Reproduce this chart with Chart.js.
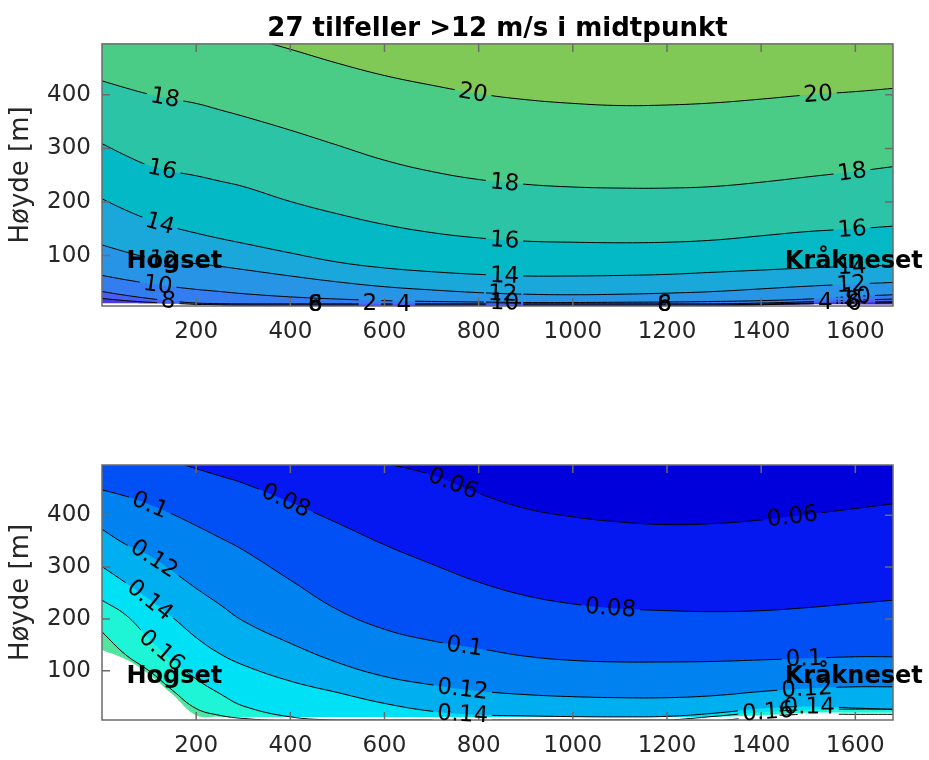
<!DOCTYPE html>
<html>
<head>
<meta charset="utf-8">
<script src="https://cdn.jsdelivr.net/npm/chart.js@4"></script>
<style>
  body { margin: 0; background: #fff; }
  .felt { position: absolute; left: 0; width: 929px; height: 380px; }
</style>
</head>
<body>
<div class="felt" style="top:0"><canvas id="vind" width="929" height="380"></canvas></div>
<div class="felt" style="top:380px"><canvas id="turb" width="929" height="380"></canvas></div>
<script>
// avstand langs profilet [m]
const xs = [0, 50, 100, 150, 200, 250, 300, 400, 500, 600, 700, 800, 900, 1000, 1100, 1200, 1300, 1400, 1500, 1600, 1680];
const xTicks = [200, 400, 600, 800, 1000, 1200, 1400, 1600];
const yTicks = [100, 200, 300, 400];

// øvre figur: høyde til hver konturlinje for vindhastighet (m/s)
const vind20 = [586, 573, 561, 548, 536, 523, 510, 485, 459, 436, 418, 402, 391, 384, 380, 381, 385, 392, 400, 406, 412];
const vind18 = [426, 413, 401, 392, 384, 372, 360, 334, 306, 278, 257, 242, 233, 228, 226, 226, 229, 237, 247, 257, 266];
const vind16 = [309, 287, 268, 257, 249, 239, 229, 201, 178, 158, 143, 133, 127, 125, 124, 125, 129, 137, 145, 150, 155];
const vind14 = [206, 185, 167, 153, 142, 132, 123, 105, 88, 77, 70, 65, 62, 62, 63, 65, 69, 73, 77, 80, 82];
const vind12 = [120, 107, 96, 90, 85, 80, 74, 62, 51, 42, 36, 31, 28, 27, 28, 30, 33, 38, 43, 47, 50];
const vind10 = [63, 55, 48, 42, 37, 33, 29, 23, 19, 16, 14.5, 13.5, 12.5, 12.5, 13, 13.5, 14.5, 16, 19, 24, 27];
const vind8 = [33, 26, 20, 15, 11.5, 10.5, 10, 10, 10, 10, 10, 10, 10, 10, 10, 10, 10, 11.5, 14, 17, 19];
const vind6 = [20, 16, 13, 11, 9, 8.5, 8, 8, 8, 8, 8, 8, 8, 8, 8, 8, 8, 9.5, 11.5, 13, 14];
const vind4 = [2, 2, 2, 2, 2, 4, 6.5, 6.5, 6.5, 6.5, 6.5, 6.5, 6.5, 6.5, 6.5, 6.5, 6.5, 8.5, 10, 11, 12];
const terrengVind = [11, 11, 10.5, 10, 9, 7, 2, 2, 2, 2, 2, 2, 2, 2, 2, 2, 2, 7, 9, 9, 9];

// nedre figur: høyde til hver konturlinje for turbulensintensitet
const turb06 = [620, 610, 600, 590, 580, 570, 560, 540, 520, 500, 478, 442, 413, 397, 387, 382, 384, 391, 402, 413, 422];
const turb08 = [545, 531, 518, 504, 490, 476, 462, 425, 385, 343, 306, 271, 245, 229, 220, 216, 214, 216, 222, 230, 236];
const turb10 = [449, 437, 421, 402, 380, 357, 333, 275, 218, 180, 158, 143, 128, 120, 117, 117, 118, 121, 124, 127, 127];
const turb12 = [373, 344, 323, 292, 259, 228, 196, 153, 116, 89, 73, 61, 54, 50, 48, 48, 52, 60, 66, 69, 69];
const turb14 = [301, 270, 238, 203, 164, 133, 111, 80, 58, 37, 22, 15, 13, 11.5, 11, 12, 18, 27, 31, 28, 25];
const turb16 = [236, 208, 162, 120, 84, 56, 32, 11, 5, 5, 5, 5, 5, 5, 5, 5, 12, 20, 25, 26, 26];
const turb18 = [175, 131, 100, 62, 27, 14, 8, 3, 3, 3, 3, 3, 3, 3, 3, 3, 3, 12, 16, 16, 16];
const terrengTurb = [140, 122, 93, 54, 14, 11, 11, 11, 11, 11, 11, 11, 11, 11, 11, 11, 11, 14, 19, 19, 19];

// konturetiketter: [tekst, x] på linja, eller [tekst, x, høyde] fritt plassert
const etiketterVind = [
  ['18', 134], ['18', 855], ['18', 1593],
  ['16', 128], ['16', 855], ['16', 1593],
  ['14', 123], ['14', 855], ['14', 1593],
  ['12', 130], ['12', 851], ['12', 1591],
  ['10', 119], ['10', 855], ['10', 1602],
  ['8', 141], ['8', 1593],
  ['20', 788], ['20', 1521],
  ['6', 453, 9], ['8', 453, 9], ['2', 569, 11], ['4', 641, 9],
  ['6', 1195, 9], ['8', 1195, 9], ['4', 1536, 13], ['6', 1598, 12]
];
const etiketterTurb = [
  ['0.1', 102], ['0.08', 391], ['0.06', 746], ['0.12', 111], ['0.14', 102], ['0.16', 127],
  ['0.1', 770], ['0.12', 766], ['0.14', 766], ['0.08', 1080], ['0.06', 1466],
  ['0.1', 1491], ['0.12', 1497], ['0.14', 1502], ['0.16', 1414]
];
const steder = [['Hogset', 52], ['Kråkneset', 1450]];
const stedHoyde = 88;

Chart.defaults.font.family = "'DejaVu Sans', sans-serif";
Chart.defaults.color = '#262626';

function kontur(niva, verdier, farge, fyll) {
  return {
    niva: niva,
    data: xs.map((x, i) => ({ x: x, y: verdier[i] })),
    borderColor: niva ? '#000' : 'rgba(0,0,0,0)',
    borderWidth: niva ? 1 : 0,
    backgroundColor: farge,
    fill: fyll,
    pointRadius: 0,
    tension: 0.4
  };
}

// tegner bakgrunn, etiketter med hull i linjene, ramme og stedsnavn
function lagPynt(liste, bakgrunn) {
  return {
    id: 'pynt',
    beforeDraw(chart) {
      const a = chart.chartArea;
      chart.ctx.save();
      chart.ctx.fillStyle = bakgrunn;
      chart.ctx.fillRect(a.left, a.top, a.width, a.height);
      chart.ctx.restore();
    },
    beforeDatasetsDraw(chart) {
      const ctx = chart.ctx;
      ctx.save();
      ctx.font = "23px 'DejaVu Sans'";
      chart.$bokser = liste.map(function(e) {
        const tekst = e[0];
        const px = chart.scales.x.getPixelForValue(e[1]);
        let py, vinkel = 0;
        if (e.length < 3) {
          const idx = chart.data.datasets.findIndex(d => d.niva === tekst);
          const linje = chart.getDatasetMeta(idx).dataset;
          linje.updateControlPoints(chart.chartArea, 'x');
          const pkt = q => { const r = linje.interpolate({ x: q }, 'x'); return Array.isArray(r) ? r[0] : r; };
          const p = pkt(px), a = pkt(px - 5), b = pkt(px + 5);
          py = p.y;
          vinkel = Math.atan2(b.y - a.y, b.x - a.x);
        } else {
          py = chart.scales.y.getPixelForValue(e[2]);
        }
        return { tekst: tekst, px: px, py: py, vinkel: vinkel, w: ctx.measureText(tekst).width + 8, h: 20 };
      });
      ctx.restore();
    },
    beforeDatasetDraw(chart) {
      const ctx = chart.ctx;
      const a = chart.chartArea;
      ctx.save();
      ctx.beginPath();
      ctx.rect(a.left - 5, a.top - 5, a.width + 10, a.height + 10);
      (chart.$bokser || []).forEach(function(b) {
        const c = Math.cos(b.vinkel), s = Math.sin(b.vinkel);
        const hw = b.w / 2, hh = b.h / 2;
        const hj = [[-hw, -hh], [hw, -hh], [hw, hh], [-hw, hh]];
        hj.forEach(function(k, i) {
          const x = b.px + k[0] * c - k[1] * s;
          const y = b.py + k[0] * s + k[1] * c;
          if (i === 0) ctx.moveTo(x, y); else ctx.lineTo(x, y);
        });
        ctx.closePath();
      });
      ctx.clip('evenodd');
    },
    afterDatasetDraw(chart) {
      chart.ctx.restore();
    },
    afterDatasetsDraw(chart) {
      const ctx = chart.ctx;
      const a = chart.chartArea;
      const sx = chart.scales.x, sy = chart.scales.y;
      ctx.save();
      // ramme og innoverpekende merker
      ctx.strokeStyle = '#6b6b6b';
      ctx.lineWidth = 1.5;
      ctx.strokeRect(a.left, a.top, a.width, a.height);
      ctx.beginPath();
      xTicks.forEach(function(v) {
        const p = sx.getPixelForValue(v);
        ctx.moveTo(p, a.bottom); ctx.lineTo(p, a.bottom - 8);
        ctx.moveTo(p, a.top); ctx.lineTo(p, a.top + 8);
      });
      yTicks.forEach(function(v) {
        const p = sy.getPixelForValue(v);
        ctx.moveTo(a.left, p); ctx.lineTo(a.left + 8, p);
        ctx.moveTo(a.right, p); ctx.lineTo(a.right - 8, p);
      });
      ctx.stroke();
      // konturetiketter
      ctx.fillStyle = '#000';
      ctx.font = "23px 'DejaVu Sans'";
      ctx.textAlign = 'center';
      ctx.textBaseline = 'middle';
      (chart.$bokser || []).forEach(function(b) {
        ctx.save();
        ctx.translate(b.px, b.py);
        ctx.rotate(b.vinkel);
        ctx.fillText(b.tekst, 0, 1);
        ctx.restore();
      });
      // stedsnavn
      ctx.font = "bold 24px 'DejaVu Sans'";
      ctx.textAlign = 'left';
      steder.forEach(function(s) {
        ctx.fillText(s[0], sx.getPixelForValue(s[1]), sy.getPixelForValue(stedHoyde));
      });
      ctx.restore();
    }
  };
}

function akser(ymin, ymax, xHoyde) {
  const tickFont = { size: 23 };
  return {
    x: {
      type: 'linear', min: 0, max: 1680,
      grid: { display: false, drawTicks: false },
      border: { display: false },
      ticks: { font: tickFont, color: '#262626', padding: 12, autoSkip: false, maxRotation: 0, callback: v => String(v) },
      afterBuildTicks: s => { s.ticks = xTicks.map(v => ({ value: v })); },
      afterFit: s => { s.height = xHoyde; }
    },
    y: {
      type: 'linear', min: ymin, max: ymax,
      grid: { display: false, drawTicks: false },
      border: { display: false },
      ticks: { font: tickFont, color: '#262626', padding: 11, callback: v => String(v) },
      title: { display: true, text: 'Høyde [m]', font: { size: 26 }, color: '#262626', padding: { top: 6, bottom: 0 } },
      afterBuildTicks: s => { s.ticks = yTicks.map(v => ({ value: v })); },
      afterFit: s => { s.width = 102; }
    }
  };
}

new Chart(document.getElementById('vind'), {
  type: 'line',
  data: {
    datasets: [
      kontur(null, terrengVind, '#ffffff', 'start'),
      kontur('20', vind20, '#80C957', 'end'),
      kontur('18', vind18, '#4ACB86', 'end'),
      kontur('16', vind16, '#2BC4A7', 'end'),
      kontur('14', vind14, '#03B9C6', 'end'),
      kontur('12', vind12, '#1AA8DA', 'end'),
      kontur('10', vind10, '#2894E6', 'end'),
      kontur('8', vind8, '#337DF0', 'end'),
      kontur('6', vind6, '#4660F2', 'end'),
      kontur('4', vind4, '#4A3CDC', 'end')
    ]
  },
  options: {
    responsive: false,
    animation: false,
    events: [],
    layout: { padding: { left: 0, right: 36, top: 0, bottom: 0 } },
    scales: akser(6, 495, 74),
    plugins: {
      legend: { display: false },
      tooltip: { enabled: false },
      filler: { drawTime: 'beforeDatasetsDraw' },
      title: {
        display: true,
        text: '27 tilfeller >12 m/s i midtpunkt',
        fullSize: false,
        color: '#000',
        font: { size: 26, weight: 'bold', lineHeight: 1.15 },
        padding: { top: 14, bottom: 0 }
      }
    }
  },
  plugins: [lagPynt(etiketterVind, '#3C2DB4')]
});

new Chart(document.getElementById('turb'), {
  type: 'line',
  data: {
    datasets: [
      kontur(null, terrengTurb, '#ffffff', 'start'),
      kontur('0.18', turb18, '#50E6A0', 'start'),
      kontur('0.16', turb16, '#1EF5D7', 'start'),
      kontur('0.14', turb14, '#00E1F5', 'start'),
      kontur('0.12', turb12, '#00AFF0', 'start'),
      kontur('0.1', turb10, '#0082F0', 'start'),
      kontur('0.08', turb08, '#0050F5', 'start'),
      kontur('0.06', turb06, '#0518F2', 'start')
    ]
  },
  options: {
    responsive: false,
    animation: false,
    events: [],
    layout: { padding: { left: 0, right: 36, top: 85, bottom: 0 } },
    scales: akser(5, 497, 40),
    plugins: {
      legend: { display: false },
      tooltip: { enabled: false },
      filler: { drawTime: 'beforeDatasetsDraw' }
    }
  },
  plugins: [lagPynt(etiketterTurb, '#0000DC')]
});
</script>
</body>
</html>
